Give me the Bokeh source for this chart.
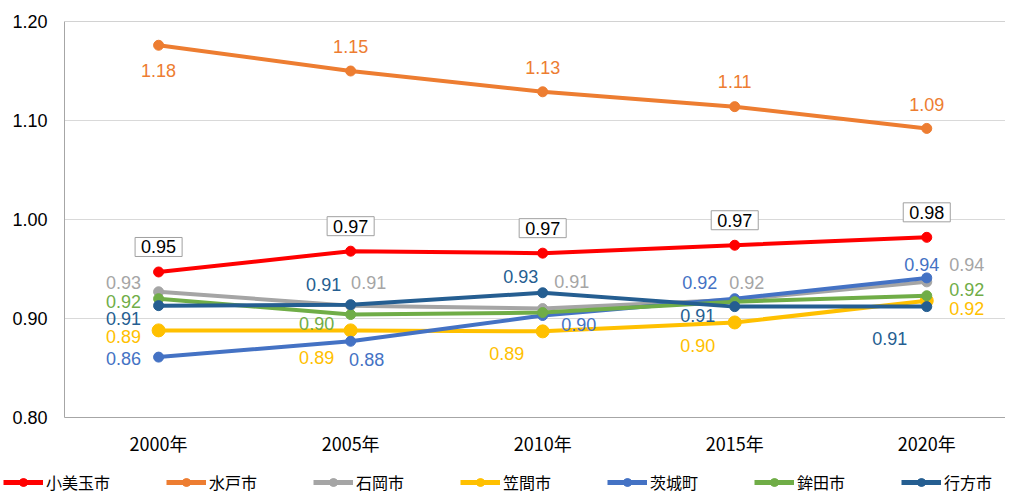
from bokeh.plotting import figure
from bokeh.layouts import column
from bokeh.models import (ColumnDataSource, Range1d, FixedTicker, Legend, LegendItem,
                          Span, NumeralTickFormatter)
from bokeh.core.properties import value
from bokeh.embed import file_html
from bokeh.resources import INLINE

# ---- data ----
years = ["2000年", "2005年", "2010年", "2015年", "2020年"]
omitama = [0.947, 0.968, 0.966, 0.974, 0.982]      # 小美玉市
mito = [1.176, 1.150, 1.129, 1.114, 1.092]         # 水戸市
ishioka = [0.927, 0.913, 0.910, 0.919, 0.937]      # 石岡市
kasama = [0.888, 0.888, 0.887, 0.896, 0.918]       # 笠間市
ibaraki = [0.861, 0.877, 0.903, 0.920, 0.941]      # 茨城町
hokota = [0.920, 0.904, 0.906, 0.917, 0.923]       # 鉾田市
namegata = [0.913, 0.914, 0.926, 0.912, 0.912]     # 行方市
series_names = ["小美玉市", "水戸市", "石岡市", "笠間市", "茨城町", "鉾田市", "行方市"]
y_ticks = [0.80, 0.90, 1.00, 1.10, 1.20]

# ---- styles / label placement (pixel offsets from points) ----
colors = ["#FF0000", "#ED7D31", "#A5A5A5", "#FFC000", "#4472C4", "#70AD47", "#255E91"]
sizes = [10, 10, 10, 13, 10, 10, 10]
offsets = [
    [(0, -25)] * 5,
    [(0, 25), (0, -25), (0, -24), (0, -25), (0, -24)],
    [(-35, -9), (18, -23), (29, -27), (12, -17), (40, -17)],
    [(-35, 6), (-34, 27), (-36, 22), (-37, 23), (40, 8)],
    [(-35, 1), (16, 18), (36, 9), (-35, -16), (-5, -13)],
    [(-35, 3), (-34, 9), None, None, (40, -6)],
    [(-35, 13), (-27, -20), (-22, -16), (-37, 9), (-37, 32)],
]

all_series = [omitama, mito, ishioka, kasama, ibaraki, hokota, namegata]
xs = list(range(len(years)))

NUM_FONT = "Liberation Sans"
JP_FONT = "Noto Sans CJK JP"
W = 1005

p = figure(width=W, height=458, output_backend="svg", toolbar_location=None,
           x_range=Range1d(-0.49, 4.41), y_range=Range1d(0.80, 1.20),
           min_border_left=64, min_border_right=0, min_border_top=21, min_border_bottom=41)
p.outline_line_color = None
p.background_fill_color = "white"
p.border_fill_color = "white"
p.frame_align = False

p.xgrid.grid_line_color = None
p.ygrid.grid_line_color = "#D9D9D9"
p.ygrid.grid_line_width = 1

p.xaxis.ticker = FixedTicker(ticks=xs)
p.xaxis.major_label_overrides = {i: y for i, y in enumerate(years)}
p.yaxis.ticker = FixedTicker(ticks=y_ticks)
p.yaxis.formatter = NumeralTickFormatter(format="0.00")
for ax in (p.xaxis, p.yaxis):
    ax.axis_line_color = "#A6A6A6"
    ax.axis_line_width = 1
    ax.major_tick_line_color = None
    ax.minor_tick_line_color = None
    ax.major_tick_in = 0
    ax.major_tick_out = 0
    ax.major_label_text_font = JP_FONT
    ax.major_label_text_color = "#000000"
    ax.major_label_text_font_size = "18px"
p.yaxis.major_label_text_font = NUM_FONT
p.yaxis.major_label_standoff = 17
p.xaxis.major_label_standoff = 12

p.add_layout(Span(location=1.20, dimension="width", line_color="#A6A6A6", line_width=1))

# legend strip as its own small figure below the chart
lg = figure(width=W, height=36, output_backend="svg", toolbar_location=None,
            x_axis_type=None, y_axis_type=None, min_border=0,
            x_range=Range1d(0, 1), y_range=Range1d(0, 1))
lg.outline_line_color = None
lg.xgrid.grid_line_color = None
lg.ygrid.grid_line_color = None
lg.frame_align = False

items = []
for k, (name, vals) in enumerate(zip(series_names, all_series)):
    src = ColumnDataSource(dict(x=xs, y=vals))
    p.line("x", "y", source=src, line_color=colors[k], line_width=4)
    p.scatter("x", "y", source=src, size=sizes[k], fill_color=colors[k],
              line_color=colors[k])

    # off-range placeholder so the legend can draw the series' glyph
    dummy = ColumnDataSource(dict(x=[-10, -11], y=[-10, -11]))
    l2 = lg.line("x", "y", source=dummy, line_color=colors[k], line_width=5)
    s2 = lg.scatter("x", "y", source=dummy, size=sizes[k] + 2, fill_color=colors[k],
                    line_color=colors[k])
    items.append(LegendItem(label=name, renderers=[l2, s2]))

    lx, ly, lt, xo, yo = [], [], [], [], []
    for i, v in enumerate(vals):
        off = offsets[k][i]
        if off is None:
            continue
        lx.append(xs[i]); ly.append(v); lt.append(f"{v:.2f}")
        xo.append(off[0]); yo.append(off[1])
    lsrc = ColumnDataSource(dict(x=lx, y=ly, t=lt, xo=xo, yo=yo))
    if k == 0:
        p.text("x", "y", text="t", source=lsrc, x_offset="xo", y_offset="yo",
               text_align="center", text_baseline="middle", text_color="#000000",
               text_font=value(NUM_FONT), text_font_size="18px",
               background_fill_color="white", border_line_color="#A0A0A0",
               border_line_width=1, padding=dict(x=6, y=3))
    else:
        p.text("x", "y", text="t", source=lsrc, x_offset="xo", y_offset="yo",
               text_align="center", text_baseline="middle", text_color=colors[k],
               text_font=value(NUM_FONT), text_font_size="18px")

legend = Legend(items=items, orientation="horizontal", location=(3, 0),
                spacing=56, glyph_width=40, glyph_height=20, label_standoff=3,
                padding=0, margin=0, border_line_color=None, background_fill_alpha=0,
                label_text_font=JP_FONT, label_text_font_size="16px",
                label_text_color="#000000")
lg.add_layout(legend, "center")

layout = column(p, lg, spacing=0)
open("out.html", "w").write(file_html(layout, INLINE))
